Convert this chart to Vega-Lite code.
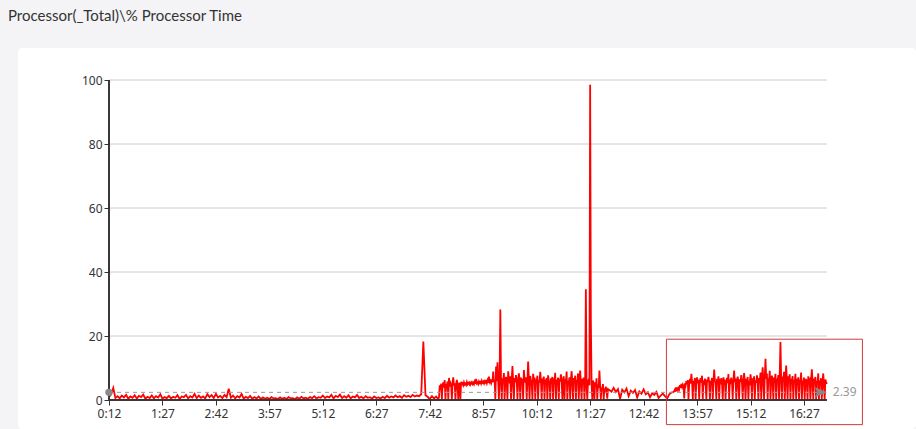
{
  "$schema": "https://vega.github.io/schema/vega-lite/v6.json",
  "autosize": "none",
  "width": 898,
  "height": 381,
  "padding": {"left": 18, "top": 48, "right": 0, "bottom": 0},
  "background": "#f4f4f6",
  "title": {"text": "Processor(_Total)\\% Processor Time", "anchor": "start", "frame": "group", "orient": "top", "offset": 12, "dx": -10, "baseline": "alphabetic", "font": "Lato", "fontSize": 15, "fontWeight": "normal", "color": "#333333"},
  "config": {"view": {"fill": "white", "stroke": null, "cornerRadius": 4}, "font": "Noto Sans"},
  "datasets": {
    "cpu": [
      {"t":12,"v":1.0},{"t":15,"v":1.8},{"t":18,"v":3.8},{"t":21,"v":0.6},{"t":24,"v":1.2},{"t":27,"v":0.5},{"t":30,"v":1.4},{"t":33,"v":0.8},{"t":36,"v":1.6},{"t":39,"v":0.4},
      {"t":42,"v":1.1},{"t":45,"v":0.7},{"t":48,"v":1.5},{"t":51,"v":0.5},{"t":54,"v":1.3},{"t":57,"v":0.9},{"t":60,"v":1.7},{"t":63,"v":0.4},{"t":66,"v":1.0},{"t":69,"v":0.6},
      {"t":72,"v":1.4},{"t":75,"v":0.5},{"t":78,"v":1.2},{"t":81,"v":0.8},{"t":84,"v":1.8},{"t":87,"v":0.4},{"t":90,"v":0.9},{"t":93,"v":0.6},{"t":96,"v":1.3},{"t":99,"v":0.5},
      {"t":102,"v":1.0},{"t":105,"v":0.7},{"t":108,"v":1.5},{"t":111,"v":0.3},{"t":114,"v":1.1},{"t":117,"v":0.9},{"t":120,"v":1.6},{"t":123,"v":0.5},{"t":126,"v":1.2},{"t":129,"v":0.8},
      {"t":132,"v":1.9},{"t":135,"v":0.6},{"t":138,"v":1.4},{"t":141,"v":0.7},{"t":144,"v":1.1},{"t":147,"v":0.5},{"t":150,"v":1.8},{"t":153,"v":0.9},{"t":156,"v":1.5},{"t":159,"v":0.6},
      {"t":162,"v":1.9},{"t":165,"v":0.8},{"t":168,"v":1.3},{"t":171,"v":0.6},{"t":174,"v":1.6},{"t":177,"v":0.9},{"t":180,"v":3.5},{"t":183,"v":0.7},{"t":186,"v":1.4},{"t":189,"v":0.5},
      {"t":192,"v":1.2},{"t":195,"v":0.8},{"t":198,"v":1.9},{"t":201,"v":0.4},{"t":204,"v":1.0},{"t":207,"v":0.6},{"t":210,"v":1.3},{"t":213,"v":0.4},{"t":216,"v":0.9},{"t":219,"v":0.5},
      {"t":222,"v":1.1},{"t":225,"v":0.3},{"t":228,"v":0.8},{"t":231,"v":0.4},{"t":234,"v":0.7},{"t":237,"v":0.3},{"t":240,"v":0.9},{"t":243,"v":0.5},{"t":246,"v":0.6},{"t":249,"v":0.3},
      {"t":252,"v":0.8},{"t":255,"v":0.4},{"t":258,"v":0.7},{"t":261,"v":0.3},{"t":264,"v":0.9},{"t":267,"v":0.5},{"t":270,"v":0.6},{"t":273,"v":0.3},{"t":276,"v":0.8},{"t":279,"v":0.4},
      {"t":282,"v":1.0},{"t":285,"v":0.5},{"t":288,"v":0.7},{"t":291,"v":0.4},{"t":294,"v":0.9},{"t":297,"v":0.6},{"t":300,"v":1.2},{"t":303,"v":0.5},{"t":306,"v":0.9},{"t":309,"v":0.7},
      {"t":312,"v":1.4},{"t":315,"v":0.6},{"t":318,"v":1.1},{"t":321,"v":0.8},{"t":324,"v":1.6},{"t":327,"v":0.5},{"t":330,"v":1.3},{"t":333,"v":0.9},{"t":336,"v":1.7},{"t":339,"v":0.6},
      {"t":342,"v":1.2},{"t":345,"v":0.7},{"t":348,"v":1.5},{"t":351,"v":0.5},{"t":354,"v":1.1},{"t":357,"v":0.8},{"t":360,"v":1.6},{"t":363,"v":0.6},{"t":366,"v":1.0},{"t":369,"v":0.5},
      {"t":372,"v":1.2},{"t":375,"v":0.7},{"t":378,"v":0.9},{"t":381,"v":0.4},{"t":384,"v":1.1},{"t":387,"v":0.6},{"t":390,"v":0.8},{"t":393,"v":0.5},{"t":396,"v":1.0},{"t":399,"v":0.6},
      {"t":402,"v":1.3},{"t":405,"v":0.7},{"t":408,"v":1.1},{"t":411,"v":0.8},{"t":414,"v":1.4},{"t":417,"v":0.9},{"t":420,"v":1.2},{"t":423,"v":0.7},{"t":426,"v":1.5},{"t":429,"v":1.0},
      {"t":432,"v":1.3},{"t":435,"v":0.9},{"t":438,"v":1.6},{"t":441,"v":1.1},{"t":444,"v":1.4},{"t":447,"v":1.2},{"t":450,"v":1.8},{"t":453,"v":18.3},{"t":456,"v":1.5},{"t":459,"v":1.0},
      {"t":462,"v":0.3},{"t":465,"v":1.2},{"t":468,"v":0.5},{"t":471,"v":1.1},{"t":474,"v":0.2},
      {"t":475,"v":1.0},{"t":476,"v":4.6},{"t":477,"v":3.2},{"t":478,"v":5.1},{"t":479,"v":0.2},{"t":480,"v":4.8},{"t":481,"v":5.5},{"t":482,"v":3.9},{"t":483,"v":6.2},{"t":484,"v":0.1},
      {"t":485,"v":5.0},{"t":486,"v":4.4},{"t":487,"v":5.8},{"t":488,"v":0.3},{"t":489,"v":6.9},{"t":490,"v":4.2},{"t":491,"v":5.3},{"t":492,"v":4.7},{"t":493,"v":0.2},{"t":494,"v":5.6},
      {"t":495,"v":7.1},{"t":496,"v":4.5},{"t":497,"v":5.2},{"t":498,"v":0.1},{"t":499,"v":4.9},{"t":500,"v":6.3},{"t":501,"v":4.6},{"t":502,"v":0.2},{"t":503,"v":5.4},{"t":504,"v":4.8},
      {"t":505,"v":0.3},{"t":506,"v":5.7},{"t":507,"v":4.9},{"t":508,"v":5.2},{"t":509,"v":4.6},{"t":510,"v":5.5},{"t":511,"v":4.8},{"t":512,"v":5.1},{"t":513,"v":4.7},{"t":514,"v":5.6},
      {"t":515,"v":4.9},{"t":516,"v":5.3},{"t":517,"v":5.0},{"t":518,"v":5.8},{"t":519,"v":4.8},{"t":520,"v":5.2},{"t":521,"v":5.6},{"t":522,"v":5.0},{"t":523,"v":5.4},{"t":524,"v":4.9},
      {"t":525,"v":5.7},{"t":526,"v":5.1},{"t":527,"v":6.6},{"t":528,"v":5.2},{"t":529,"v":5.5},{"t":530,"v":5.0},{"t":531,"v":5.8},{"t":532,"v":5.3},{"t":533,"v":5.6},{"t":534,"v":5.1},
      {"t":535,"v":6.0},{"t":536,"v":5.4},{"t":537,"v":5.7},{"t":538,"v":5.2},{"t":539,"v":6.3},{"t":540,"v":5.5},{"t":541,"v":5.8},{"t":542,"v":5.2},{"t":543,"v":6.1},{"t":544,"v":5.4},
      {"t":545,"v":7.3},{"t":546,"v":5.6},{"t":547,"v":6.0},{"t":548,"v":5.3},{"t":549,"v":6.4},{"t":550,"v":5.5},{"t":551,"v":8.9},{"t":552,"v":5.7},{"t":553,"v":6.2},{"t":554,"v":0.3},
      {"t":555,"v":10.5},{"t":556,"v":5.9},{"t":557,"v":11.8},{"t":558,"v":6.0},{"t":559,"v":0.2},{"t":560,"v":7.5},{"t":561,"v":28.3},{"t":562,"v":5.5},{"t":563,"v":0.2},{"t":564,"v":6.8},
      {"t":565,"v":5.2},{"t":566,"v":8.4},{"t":567,"v":0.1},{"t":568,"v":6.0},{"t":569,"v":7.2},{"t":570,"v":5.4},{"t":571,"v":0.3},{"t":572,"v":9.0},{"t":573,"v":6.1},{"t":574,"v":5.6},
      {"t":575,"v":7.4},{"t":576,"v":0.2},{"t":577,"v":6.3},{"t":578,"v":10.6},{"t":579,"v":5.8},{"t":580,"v":0.1},{"t":581,"v":6.9},{"t":582,"v":5.5},{"t":583,"v":7.8},{"t":584,"v":6.2},
      {"t":585,"v":0.3},{"t":586,"v":5.9},{"t":587,"v":8.3},{"t":588,"v":6.4},{"t":589,"v":0.2},{"t":590,"v":7.0},{"t":591,"v":5.7},{"t":592,"v":6.6},{"t":593,"v":0.1},{"t":594,"v":9.4},
      {"t":595,"v":6.2},{"t":596,"v":5.5},{"t":597,"v":7.1},{"t":598,"v":0.3},{"t":599,"v":6.0},{"t":600,"v":12.0},{"t":601,"v":6.8},{"t":602,"v":0.2},{"t":603,"v":7.5},{"t":604,"v":6.1},
      {"t":605,"v":5.6},{"t":606,"v":0.1},{"t":607,"v":8.2},{"t":608,"v":6.3},{"t":609,"v":7.0},{"t":610,"v":0.3},{"t":611,"v":6.5},{"t":612,"v":5.8},{"t":613,"v":7.6},{"t":614,"v":0.2},
      {"t":615,"v":6.2},{"t":616,"v":5.4},{"t":617,"v":8.8},{"t":618,"v":6.0},{"t":619,"v":0.1},{"t":620,"v":6.7},{"t":621,"v":5.9},{"t":622,"v":7.3},{"t":623,"v":0.3},{"t":624,"v":6.4},
      {"t":625,"v":5.5},{"t":626,"v":6.9},{"t":627,"v":0.2},{"t":628,"v":7.7},{"t":629,"v":6.0},{"t":630,"v":5.6},{"t":631,"v":0.1},{"t":632,"v":6.8},{"t":633,"v":5.3},{"t":634,"v":7.2},
      {"t":635,"v":0.3},{"t":636,"v":6.1},{"t":637,"v":5.7},{"t":638,"v":8.5},{"t":639,"v":0.2},{"t":640,"v":6.3},{"t":641,"v":5.4},{"t":642,"v":7.0},{"t":643,"v":0.1},{"t":644,"v":6.6},
      {"t":645,"v":5.8},{"t":646,"v":8.0},{"t":647,"v":6.2},{"t":648,"v":0.3},{"t":649,"v":5.9},{"t":650,"v":7.4},{"t":651,"v":0.2},{"t":652,"v":6.5},{"t":653,"v":5.6},{"t":654,"v":8.9},
      {"t":655,"v":0.1},{"t":656,"v":6.0},{"t":657,"v":5.5},{"t":658,"v":7.1},{"t":659,"v":0.3},{"t":660,"v":6.4},{"t":661,"v":9.0},{"t":662,"v":5.8},{"t":663,"v":0.2},{"t":664,"v":6.9},
      {"t":665,"v":5.3},{"t":666,"v":7.6},{"t":667,"v":0.1},{"t":668,"v":6.2},{"t":669,"v":5.7},{"t":670,"v":8.3},{"t":671,"v":0.3},{"t":672,"v":6.0},{"t":673,"v":9.2},{"t":674,"v":5.4},
      {"t":675,"v":0.2},{"t":676,"v":6.6},{"t":677,"v":5.9},{"t":678,"v":7.0},{"t":679,"v":0.1},{"t":680,"v":5.6},{"t":681,"v":34.6},{"t":682,"v":4.8},{"t":683,"v":0.2},{"t":684,"v":5.9},
      {"t":685,"v":6.4},{"t":686,"v":4.6},{"t":687,"v":98.5},{"t":688,"v":25.0},{"t":689,"v":5.2},{"t":690,"v":0.3},{"t":691,"v":6.1},{"t":692,"v":4.7},{"t":693,"v":0.1},{"t":694,"v":5.5},
      {"t":695,"v":4.2},{"t":696,"v":6.8},{"t":697,"v":0.2},{"t":698,"v":4.9},{"t":699,"v":3.8},{"t":700,"v":9.2},{"t":701,"v":4.5},{"t":702,"v":0.3},{"t":703,"v":3.9},{"t":704,"v":3.3},
      {"t":705,"v":5.0},{"t":706,"v":0.2},{"t":707,"v":3.6},{"t":708,"v":3.0},{"t":709,"v":4.2},{"t":710,"v":2.8},{"t":711,"v":0.4},{"t":712,"v":3.4},
      {"t":714,"v":3.1},{"t":717,"v":2.6},{"t":720,"v":3.8},{"t":723,"v":2.5},{"t":726,"v":3.4},{"t":729,"v":0.4},{"t":732,"v":3.2},{"t":735,"v":2.4},{"t":738,"v":3.6},{"t":741,"v":1.2},
      {"t":744,"v":2.9},{"t":747,"v":2.2},{"t":750,"v":3.1},{"t":753,"v":0.8},{"t":756,"v":2.7},{"t":759,"v":2.0},{"t":762,"v":3.3},{"t":765,"v":1.8},{"t":768,"v":2.4},{"t":771,"v":0.9},
      {"t":774,"v":2.1},{"t":777,"v":1.6},{"t":780,"v":2.5},{"t":783,"v":0.6},{"t":786,"v":1.4},{"t":789,"v":2.0},{"t":792,"v":1.2},{"t":795,"v":0.5},{"t":798,"v":1.8},{"t":801,"v":2.3},
      {"t":804,"v":2.5},
      {"t":805,"v":2.8},{"t":806,"v":3.3},{"t":807,"v":2.6},{"t":808,"v":3.9},{"t":809,"v":3.1},{"t":810,"v":2.9},{"t":811,"v":4.2},{"t":812,"v":3.5},{"t":813,"v":4.6},{"t":814,"v":3.8},
      {"t":815,"v":5.0},{"t":816,"v":4.1},{"t":817,"v":4.8},{"t":818,"v":4.3},{"t":819,"v":0.5},{"t":820,"v":5.2},{"t":821,"v":4.6},{"t":822,"v":5.9},{"t":823,"v":4.9},{"t":824,"v":6.2},
      {"t":825,"v":0.3},{"t":826,"v":5.4},{"t":827,"v":6.6},{"t":828,"v":5.1},{"t":829,"v":8.2},{"t":830,"v":5.8},{"t":831,"v":0.2},{"t":832,"v":6.0},{"t":833,"v":5.3},{"t":834,"v":6.9},
      {"t":835,"v":0.3},{"t":836,"v":5.6},{"t":837,"v":7.1},{"t":838,"v":5.2},{"t":839,"v":6.3},{"t":840,"v":0.1},{"t":841,"v":5.9},{"t":842,"v":6.8},{"t":843,"v":5.4},{"t":844,"v":7.6},
      {"t":845,"v":0.2},{"t":846,"v":6.1},{"t":847,"v":5.5},{"t":848,"v":6.7},{"t":849,"v":5.0},{"t":850,"v":0.3},{"t":851,"v":6.4},{"t":852,"v":5.7},{"t":853,"v":7.2},{"t":854,"v":5.3},
      {"t":855,"v":0.2},{"t":856,"v":6.0},{"t":857,"v":5.4},{"t":858,"v":6.9},{"t":859,"v":0.1},{"t":860,"v":5.8},{"t":861,"v":9.5},{"t":862,"v":6.2},{"t":863,"v":5.5},{"t":864,"v":0.3},
      {"t":865,"v":6.6},{"t":866,"v":5.1},{"t":867,"v":7.4},{"t":868,"v":0.2},{"t":869,"v":6.0},{"t":870,"v":5.6},{"t":871,"v":6.8},{"t":872,"v":5.2},{"t":873,"v":0.1},{"t":874,"v":7.1},
      {"t":875,"v":5.7},{"t":876,"v":6.3},{"t":877,"v":0.3},{"t":878,"v":5.5},{"t":879,"v":6.9},{"t":880,"v":5.3},{"t":881,"v":8.1},{"t":882,"v":0.2},{"t":883,"v":6.4},{"t":884,"v":5.8},
      {"t":885,"v":7.0},{"t":886,"v":5.4},{"t":887,"v":0.3},{"t":888,"v":6.2},{"t":889,"v":9.2},{"t":890,"v":5.6},{"t":891,"v":6.7},{"t":892,"v":0.1},{"t":893,"v":5.9},{"t":894,"v":7.3},
      {"t":895,"v":5.5},{"t":896,"v":0.2},{"t":897,"v":6.5},{"t":898,"v":5.7},{"t":899,"v":7.8},{"t":900,"v":5.4},{"t":901,"v":0.3},{"t":902,"v":6.1},{"t":903,"v":8.4},{"t":904,"v":5.8},
      {"t":905,"v":0.1},{"t":906,"v":6.6},{"t":907,"v":5.3},{"t":908,"v":7.2},{"t":909,"v":0.2},{"t":910,"v":6.0},{"t":911,"v":5.5},{"t":912,"v":8.0},{"t":913,"v":5.9},{"t":914,"v":0.3},
      {"t":915,"v":6.8},{"t":916,"v":5.6},{"t":917,"v":7.4},{"t":918,"v":0.2},{"t":919,"v":6.2},{"t":920,"v":5.4},{"t":921,"v":7.7},{"t":922,"v":6.0},{"t":923,"v":0.1},{"t":924,"v":6.9},
      {"t":925,"v":5.7},{"t":926,"v":8.6},{"t":927,"v":0.3},{"t":928,"v":6.4},{"t":929,"v":10.2},{"t":930,"v":6.1},{"t":931,"v":0.2},{"t":932,"v":7.2},{"t":933,"v":12.9},{"t":934,"v":6.6},
      {"t":935,"v":8.3},{"t":936,"v":0.1},{"t":937,"v":6.8},{"t":938,"v":5.9},{"t":939,"v":9.1},{"t":940,"v":0.3},{"t":941,"v":6.5},{"t":942,"v":7.6},{"t":943,"v":5.8},{"t":944,"v":0.2},
      {"t":945,"v":7.0},{"t":946,"v":6.1},{"t":947,"v":8.2},{"t":948,"v":0.1},{"t":949,"v":6.7},{"t":950,"v":5.9},{"t":951,"v":7.8},{"t":952,"v":0.3},{"t":953,"v":8.4},{"t":954,"v":18.1},
      {"t":955,"v":6.6},{"t":956,"v":0.2},{"t":957,"v":7.3},{"t":958,"v":6.0},{"t":959,"v":8.8},{"t":960,"v":0.1},{"t":961,"v":6.5},{"t":962,"v":10.8},{"t":963,"v":6.2},{"t":964,"v":0.3},
      {"t":965,"v":7.4},{"t":966,"v":5.9},{"t":967,"v":8.0},{"t":968,"v":0.2},{"t":969,"v":6.6},{"t":970,"v":5.8},{"t":971,"v":7.5},{"t":972,"v":0.1},{"t":973,"v":6.3},{"t":974,"v":5.5},
      {"t":975,"v":8.2},{"t":976,"v":0.3},{"t":977,"v":6.0},{"t":978,"v":5.6},{"t":979,"v":7.1},{"t":980,"v":0.2},{"t":981,"v":6.4},{"t":982,"v":5.7},{"t":983,"v":8.6},{"t":984,"v":0.1},
      {"t":985,"v":6.1},{"t":986,"v":5.4},{"t":987,"v":7.0},{"t":988,"v":0.3},{"t":989,"v":5.8},{"t":990,"v":6.6},{"t":991,"v":5.2},{"t":992,"v":0.2},{"t":993,"v":7.4},{"t":994,"v":5.9},
      {"t":995,"v":6.3},{"t":996,"v":0.1},{"t":997,"v":5.6},{"t":998,"v":9.6},{"t":999,"v":6.0},{"t":1000,"v":0.3},{"t":1001,"v":6.7},{"t":1002,"v":5.4},{"t":1003,"v":7.2},{"t":1004,"v":0.2},
      {"t":1005,"v":5.9},{"t":1006,"v":5.3},{"t":1007,"v":8.3},{"t":1008,"v":0.1},{"t":1009,"v":6.1},{"t":1010,"v":5.5},{"t":1011,"v":6.8},{"t":1012,"v":0.3},{"t":1013,"v":5.7},{"t":1014,"v":8.3},
      {"t":1015,"v":5.2},{"t":1016,"v":0.2},{"t":1017,"v":6.4},{"t":1018,"v":5.6},{"t":1019,"v":5.0}
    ],
    "avg": [{"t": 12, "t2": 1019, "v": 2.39, "label": "2.39"}],
    "grid": [{"g": 20}, {"g": 40}, {"g": 60}, {"g": 80}, {"g": 100}]
  },
  "layer": [
    {
      "data": {"name": "grid"},
      "mark": {"type": "rule", "color": "#cccccc", "strokeWidth": 1},
      "encoding": {
        "y": {"field": "g", "type": "quantitative"},
        "x": {"datum": 12, "type": "quantitative"},
        "x2": {"datum": 1019}
      }
    },
    {
      "data": {"name": "cpu"},
      "mark": {"type": "line", "color": "#ff0000", "strokeWidth": 1.8},
      "encoding": {
        "x": {
          "field": "t", "type": "quantitative",
          "scale": {"domain": [-115.67, 1144.15], "nice": false, "zero": false},
          "axis": {
            "title": null, "values": [12, 87, 162, 237, 312, 387, 462, 537, 612, 687, 762, 837, 912, 987],
            "labelExpr": "floor(datum.value / 60) + ':' + (datum.value % 60 < 10 ? '0' : '') + (datum.value % 60)",
            "offset": -29, "domain": false, "grid": false, "tickSize": 5, "tickColor": "#333333",
            "labelColor": "#333333", "labelFontSize": 12, "labelPadding": 3, "labelFlush": false, "labelOverlap": false
          }
        },
        "y": {
          "field": "v", "type": "quantitative",
          "scale": {"domain": [-9.0625, 110], "nice": false, "zero": false},
          "axis": {
            "title": null, "values": [0, 20, 40, 60, 80, 100],
            "offset": -91, "domain": false, "grid": false, "tickSize": 5, "tickColor": "#333333",
            "labelColor": "#333333", "labelFontSize": 12, "labelPadding": 2
          }
        }
      }
    },
    {
      "data": {"name": "grid"},
      "mark": {"type": "rule", "color": "#333333", "strokeWidth": 1},
      "encoding": {
        "x": {"datum": 12, "type": "quantitative"},
        "y": {"datum": 0, "type": "quantitative"},
        "y2": {"datum": 100}
      }
    },
    {
      "data": {"name": "grid"},
      "mark": {"type": "rule", "color": "#333333", "strokeWidth": 1},
      "encoding": {
        "y": {"datum": 0, "type": "quantitative"},
        "x": {"datum": 12, "type": "quantitative"},
        "x2": {"datum": 1019}
      }
    },
    {
      "data": {"name": "avg"},
      "mark": {"type": "rule", "color": "#999999", "strokeWidth": 1, "strokeDash": [4, 4]},
      "encoding": {
        "x": {"field": "t", "type": "quantitative"},
        "x2": {"field": "t2"},
        "y": {"field": "v", "type": "quantitative"}
      }
    },
    {
      "data": {"name": "avg"},
      "mark": {"type": "point", "shape": "circle", "filled": true, "color": "#888888", "size": 55, "opacity": 1},
      "encoding": {
        "x": {"field": "t", "type": "quantitative"},
        "y": {"field": "v", "type": "quantitative"}
      }
    },
    {
      "data": {"name": "avg"},
      "mark": {"type": "point", "shape": "M0,0L-1,-0.42L-0.8,0L-1,0.42Z", "filled": true, "color": "#888888", "size": 576, "opacity": 1},
      "encoding": {
        "x": {"field": "t2", "type": "quantitative"},
        "y": {"field": "v", "type": "quantitative"}
      }
    },
    {
      "data": {"name": "avg"},
      "mark": {"type": "text", "align": "left", "baseline": "middle", "dx": 6, "color": "#999999", "fontSize": 12},
      "encoding": {
        "x": {"field": "t2", "type": "quantitative"},
        "y": {"field": "v", "type": "quantitative"},
        "text": {"field": "label"}
      }
    },
    {
      "data": {"name": "avg"},
      "mark": {"type": "rect", "fillOpacity": 0, "stroke": "#d03a3a", "strokeWidth": 1},
      "encoding": {
        "x": {"datum": 794, "type": "quantitative"},
        "x2": {"datum": 1069},
        "y": {"datum": -7.7, "type": "quantitative"},
        "y2": {"datum": 19}
      }
    }
  ]
}
